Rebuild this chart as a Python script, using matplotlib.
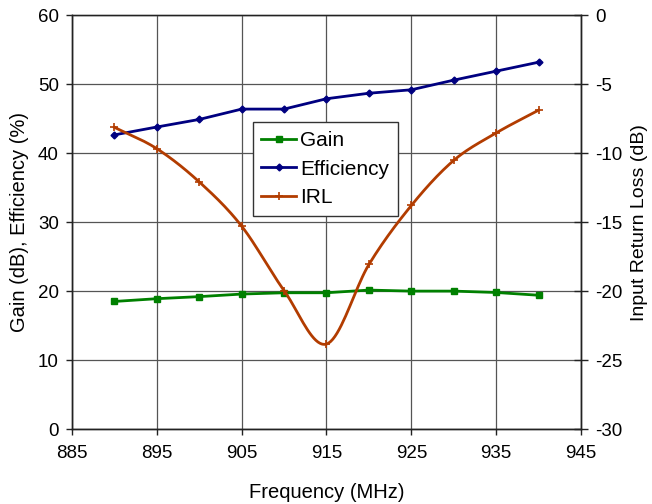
import numpy as np
import matplotlib
matplotlib.use("Agg")
import matplotlib.pyplot as plt

plt.rcParams['font.family'] = ['Liberation Sans', 'DejaVu Sans']
plt.rcParams['axes.unicode_minus'] = False

freq = [890, 895, 900, 905, 910, 915, 920, 925, 930, 935, 940]
gain = [18.5, 18.9, 19.2, 19.57, 19.76, 19.76, 20.15, 20.0, 20.0, 19.8, 19.4]
efficiency = [42.66, 43.8, 44.9, 46.4, 46.4, 47.9, 48.7, 49.2, 50.6, 51.9, 53.2]
irl = [-8.12, -9.67, -12.08, -15.29, -19.96, -23.84, -18.07, -13.79, -10.52, -8.53, -6.88]

xticks = [885, 895, 905, 915, 925, 935, 945]
left_ticks = [0, 10, 20, 30, 40, 50, 60]
right_ticks = [0, -5, -10, -15, -20, -25, -30]

green = '#008000'
navy = '#000080'
brown = '#B23C00'


def smooth(x, y, n=20):
    # Catmull-Rom style smoothing (like a spreadsheet "smoothed line")
    x = np.asarray(x, float)
    y = np.asarray(y, float)
    px = np.concatenate([[2 * x[0] - x[1]], x, [2 * x[-1] - x[-2]]])
    py = np.concatenate([[2 * y[0] - y[1]], y, [2 * y[-1] - y[-2]]])
    xs, ys = [], []
    t = np.linspace(0, 1, n, endpoint=False)
    for i in range(1, len(px) - 2):
        p0, p1, p2, p3 = (np.array([px[j], py[j]]) for j in (i - 1, i, i + 1, i + 2))
        c1 = p1 + (p2 - p0) / 6
        c2 = p2 - (p3 - p1) / 6
        pts = ((1 - t) ** 3)[:, None] * p1 + (3 * (1 - t) ** 2 * t)[:, None] * c1 \
            + (3 * (1 - t) * t ** 2)[:, None] * c2 + (t ** 3)[:, None] * p2
        xs.extend(pts[:, 0])
        ys.extend(pts[:, 1])
    xs.append(x[-1])
    ys.append(y[-1])
    return np.array(xs), np.array(ys)


fig = plt.figure(figsize=(6.52, 5.04), dpi=100)
ax = fig.add_axes([0.1104, 0.1488, 0.7807, 0.8208])
ax2 = ax.twinx()

ax.set_xlim(885, 945)
ax.set_ylim(0, 60)
ax2.set_ylim(-30, 0)
ax.set_xticks(xticks)
ax.set_yticks(left_ticks)
ax2.set_yticks(right_ticks)

ax.grid(True, color='#555555', linewidth=0.9)
ax.set_axisbelow(True)

for a in (ax, ax2):
    for s in a.spines.values():
        s.set_color('#222222')
        s.set_linewidth(1.0)
ax.spines['top'].set_color('#777777')
ax.tick_params(labelsize=13.5, length=4.5, width=1.0, color='#222222', direction='out', pad=5)
ax.tick_params(axis='x', pad=7)
ax2.tick_params(labelsize=13.5, length=10, width=1.0, color='#222222', direction='inout', pad=5)

lg, = ax.plot(freq, gain, color=green, lw=2, marker='s', ms=4.5, label='Gain')
le, = ax.plot(freq, efficiency, color=navy, lw=2, marker='D', ms=3.5, label='Efficiency')
sx, sy = smooth(freq, irl)
ax2.plot(sx, sy, color=brown, lw=2)
ax2.plot(freq, irl, color=brown, lw=0, marker='+', ms=6, mew=1.2)
li, = ax2.plot([], [], color=brown, lw=2, marker='+', ms=6, mew=1.2, label='IRL')

ax.set_xlabel('Frequency (MHz)', fontsize=14.5, labelpad=15)
ax.set_ylabel('Gain (dB), Efficiency (%)', fontsize=14.5, labelpad=6)
ax2.set_ylabel('Input Return Loss (dB)', fontsize=14, labelpad=6)

leg = ax2.legend(handles=[lg, le, li], loc='upper left', bbox_to_anchor=(0.355, 0.741),
                 fontsize=15, frameon=True, fancybox=False, framealpha=1,
                 edgecolor='#333333', borderpad=0.42, handlelength=1.65,
                 handletextpad=0.2, labelspacing=0.45, borderaxespad=0)
leg.get_frame().set_linewidth(1.0)

fig.savefig('out.png', dpi=100)
